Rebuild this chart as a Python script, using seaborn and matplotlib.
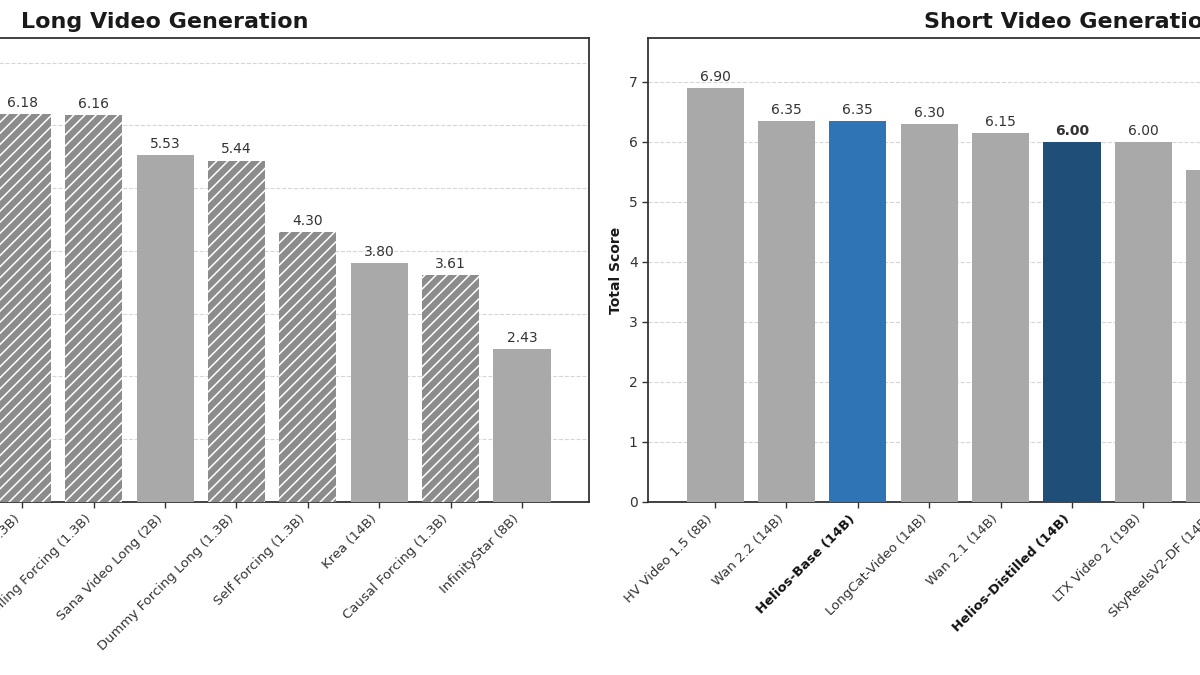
import matplotlib
matplotlib.use("Agg")
import matplotlib.pyplot as plt
import seaborn as sns
import pandas as pd

sns.set_theme(style="white")
plt.rcParams['font.family'] = ['DejaVu Sans']
plt.rcParams['hatch.linewidth'] = 1.1
plt.rcParams['hatch.color'] = 'white'

# ---- data -------------------------------------------------------------
# long video panel (first three bars fall outside the crop: estimated)
long_names = ['Helios-Distilled (14B)', 'Helios-Base (14B)', 'Reward Forcing (1.3B)',
              'LongLive (1.3B)', 'Rolling Forcing (1.3B)', 'Sana Video Long (2B)',
              'Dummy Forcing Long (1.3B)', 'Self Forcing (1.3B)', 'Krea (14B)',
              'Causal Forcing (1.3B)', 'InfinityStar (8B)']
long_scores = [6.60, 6.45, 6.25, 6.18, 6.16, 5.53, 5.44, 4.30, 3.80, 3.61, 2.43]
long_hatched = [False, False, True, True, True, False, True, True, False, True, False]

# short video panel (last bars fall outside the crop: estimated)
short_names = ['HV Video 1.5 (8B)', 'Wan 2.2 (14B)', 'Helios-Base (14B)',
               'LongCat-Video (14B)', 'Wan 2.1 (14B)', 'Helios-Distilled (14B)',
               'LTX Video 2 (19B)', 'SkyReelsV2-DF (14B)', 'FastVideo (14B)',
               'CogVideoX (5B)', 'Open-Sora 2.0 (11B)']
short_scores = [6.90, 6.35, 6.35, 6.30, 6.15, 6.00, 6.00, 5.53, 5.40, 5.10, 4.80]

HELIOS_BASE = '#2E75B6'
HELIOS_DIST = '#1F4E79'
GRAY = '#A9A9A9'
HATCH_GRAY = '#8C8C8C'


def bar_color(name, hatched=False):
    if name.startswith('Helios-Base'):
        return HELIOS_BASE
    if name.startswith('Helios-Distilled'):
        return HELIOS_DIST
    return HATCH_GRAY if hatched else GRAY


def draw_panel(ax, names, scores, hatched, title):
    df = pd.DataFrame({'model': names, 'score': scores})
    palette = {n: bar_color(n, h) for n, h in zip(names, hatched)}
    sns.barplot(data=df, x='model', y='score', hue='model', palette=palette,
                legend=False, width=0.8, saturation=1, linewidth=0, ax=ax, zorder=3)

    for cont, name, h in zip(ax.containers, names, hatched):
        for p in cont:
            p.set_linewidth(0)
            if h and not name.startswith('Helios'):
                p.set_hatch('///')
                p.set_edgecolor('white')
        bold = name.startswith('Helios-Distilled')
        ax.bar_label(cont, fmt='%.2f', padding=3, fontsize=10,
                     fontweight='bold' if bold else 'normal', color='#333333')

    n = len(names)
    pad = 0.4 + 0.05 * (n - 1 + 0.8)
    ax.set_xlim(-pad, n - 1 + pad)
    ax.set_ylim(0, max(scores) * 1.12)

    ax.set_title(title, fontsize=16, fontweight='bold', pad=7, color='#1a1a1a')
    ax.set_xlabel('')
    ax.set_ylabel('Total Score', fontsize=10, fontweight='bold', color='#1a1a1a')
    ax.yaxis.grid(True, linestyle='--', color='#cccccc', linewidth=0.8, alpha=0.8, zorder=0)
    ax.set_axisbelow(True)

    ax.tick_params(axis='both', which='major', length=4, width=1, color='#333333',
                   bottom=True, left=True, labelsize=10, labelcolor='#333333')
    ax.set_xticks(range(n))
    ax.set_xticklabels(names, rotation=45, ha='right', fontsize=9.5)
    for lbl in ax.get_xticklabels():
        if lbl.get_text().startswith('Helios'):
            lbl.set_fontweight('bold')
            lbl.set_color('#111111')

    for s in ax.spines.values():
        s.set_color('#333333')
        s.set_linewidth(1.3)


fig = plt.figure(figsize=(12, 6.75), dpi=100)
ax_long = fig.add_axes([-0.2158, 0.2563, 0.7067, 0.6874])
ax_short = fig.add_axes([0.54, 0.2563, 0.7067, 0.6874])

draw_panel(ax_long, long_names, long_scores, long_hatched, 'Long Video Generation')
draw_panel(ax_short, short_names, short_scores, [False] * len(short_names),
           'Short Video Generation')

fig.savefig('out.png', dpi=100)
